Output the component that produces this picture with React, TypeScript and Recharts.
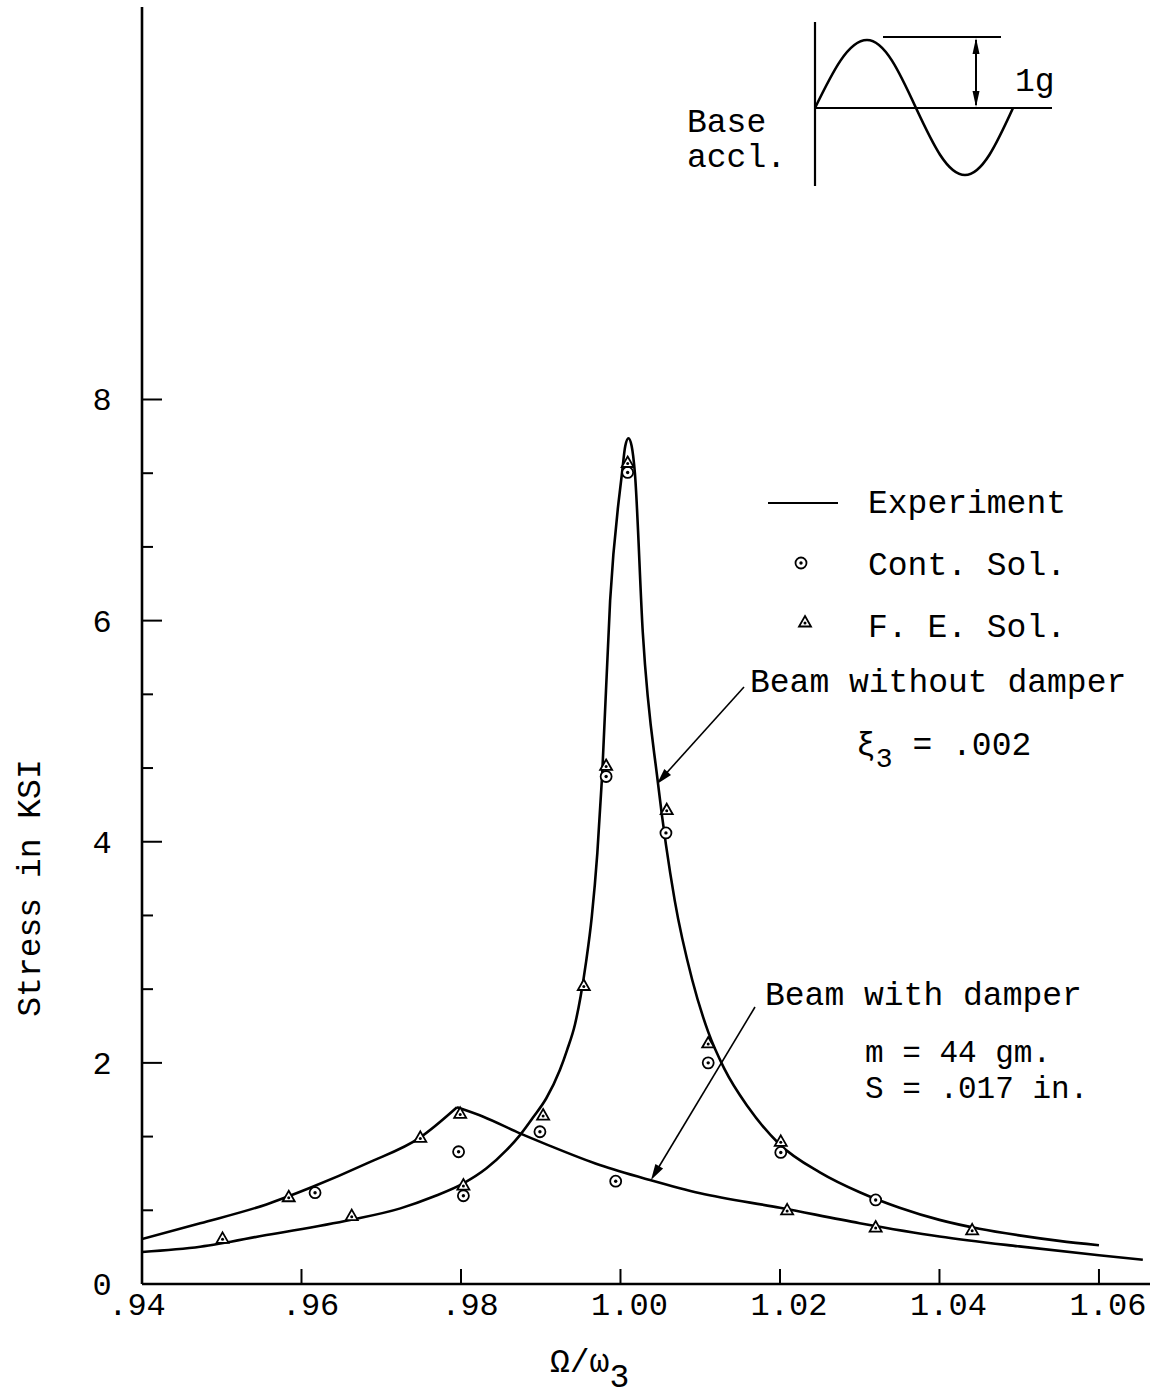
import React from 'react';
import { ComposedChart, Line, Scatter, XAxis, YAxis, Customized } from 'recharts';

const FONT = '"Liberation Mono", "Courier New", monospace';

// ---- axes ----
const xTicks = [0.94, 0.96, 0.98, 1.0, 1.02, 1.04, 1.06];
const xTickLabels = ['.94', '.96', '.98', '1.00', '1.02', '1.04', '1.06'];
const yTicks = [0, 2 / 3, 4 / 3, 2, 8 / 3, 10 / 3, 4, 14 / 3, 16 / 3, 6, 20 / 3, 22 / 3, 8];
const yTickLabels = ['0', '', '', '2', '', '', '4', '', '', '6', '', '', '8'];

// ---- Experiment: beam without damper ----
const noDamperX = [
  0.94, 0.9473, 0.9556, 0.9661, 0.9724, 0.9765, 0.9803, 0.9832, 0.9857, 0.9874, 0.9891, 0.9907,
  0.9924, 0.9933, 0.9943, 0.995, 0.9957, 0.9964, 0.9971, 0.9977, 0.9987, 1.0002, 1.0006, 1.001, 1.0014, 1.0018, 1.0028,
  1.0047, 1.0068, 1.009, 1.011, 1.013, 1.016, 1.02, 1.025, 1.03, 1.035, 1.04, 1.045, 1.05, 1.055, 1.06,
];
const noDamperY = [
  0.29, 0.337, 0.443, 0.579, 0.684, 0.789, 0.91, 1.046, 1.21, 1.347, 1.513, 1.68,
  1.935, 2.116, 2.35, 2.6, 2.92, 3.32, 3.9, 4.6, 6.18, 7.34, 7.58, 7.65, 7.58, 7.34, 5.89,
  4.53, 3.47, 2.75, 2.28, 1.95, 1.6, 1.26, 1.01, 0.83, 0.69, 0.58, 0.5, 0.44, 0.39, 0.35,
];

// ---- Experiment: beam with damper (two branches meeting at the peak) ----
const damperLeftX = [0.94, 0.9473, 0.9556, 0.9611, 0.9682, 0.9749, 0.9795];
const damperLeftY = [0.407, 0.549, 0.72, 0.87, 1.091, 1.326, 1.598];
const damperRightX = [0.9795, 0.9828, 0.9874, 0.9907, 0.9974, 1.0037, 1.01, 1.02, 1.03, 1.04, 1.05, 1.06, 1.0655];
const damperRightY = [1.598, 1.513, 1.362, 1.263, 1.076, 0.94, 0.82, 0.69, 0.55, 0.43, 0.34, 0.26, 0.22];

// ---- Cont. Sol. ----
const contSolX = [0.9617, 0.9797, 0.9803, 0.9899, 0.9982, 0.9994, 1.0009, 1.0057, 1.011, 1.0201, 1.032];
const contSolY = [0.826, 1.196, 0.798, 1.377, 4.59, 0.93, 7.34, 4.08, 2.0, 1.19, 0.76];

// ---- F. E. Sol. ----
const feSolX = [0.9501, 0.9584, 0.9663, 0.9749, 0.9799, 0.9803, 0.9903, 0.9954, 0.9982, 1.0009, 1.0058, 1.011, 1.0201, 1.0209, 1.032, 1.0441];
const feSolY = [0.413, 0.789, 0.618, 1.326, 1.543, 0.895, 1.528, 2.7, 4.69, 7.43, 4.29, 2.18, 1.29, 0.67, 0.515, 0.49];

const zip = (xs: number[], ys: number[]) => xs.map((x, i) => ({ x, y: ys[i] }));

const noDamper = zip(noDamperX, noDamperY);
const damperLeft = zip(damperLeftX, damperLeftY);
const damperRight = zip(damperRightX, damperRightY);
const contSol = zip(contSolX, contSolY);
const feSol = zip(feSolX, feSolY);

const CircleMark = (props: any) => {
  const { cx, cy } = props;
  if (cx == null || cy == null) return null;
  return (
    <g>
      <circle cx={cx} cy={cy} r={5.5} fill="#fff" stroke="#000" strokeWidth={1.8} />
      <circle cx={cx} cy={cy} r={1.7} fill="#000" />
    </g>
  );
};

const TriMark = (props: any) => {
  const { cx, cy } = props;
  if (cx == null || cy == null) return null;
  return (
    <g>
      <path d={`M${cx},${cy - 6} L${cx + 6},${cy + 4.5} L${cx - 6},${cy + 4.5} Z`} fill="#fff" stroke="#000" strokeWidth={1.8} />
      <circle cx={cx} cy={cy + 1} r={1.5} fill="#000" />
    </g>
  );
};

const XTick = (props: any) => {
  const { x, y, index } = props;
  const dx = index === 0 ? -5 : 9;
  return (
    <g>
      {index > 0 && <line x1={x} y1={y} x2={x} y2={y - 15} stroke="#000" strokeWidth={2} />}
      <text x={x + dx} y={y + 31} textAnchor="middle" fontFamily={FONT} fontSize={32} fill="#000">
        {xTickLabels[index]}
      </text>
    </g>
  );
};

const YTick = (props: any) => {
  const { x, y, index } = props;
  const label = yTickLabels[index];
  const len = label ? 20 : 11;
  return (
    <g>
      <line x1={x} y1={y} x2={x + len} y2={y} stroke="#000" strokeWidth={2} />
      {label && (
        <text x={x - 40} y={y + 11} textAnchor="middle" fontFamily={FONT} fontSize={32} fill="#000">
          {label}
        </text>
      )}
    </g>
  );
};

const arrowHead = (x1: number, y1: number, x2: number, y2: number, len = 14, half = 4.5) => {
  const dx = x2 - x1;
  const dy = y2 - y1;
  const d = Math.hypot(dx, dy);
  const ux = dx / d;
  const uy = dy / d;
  const bx = x2 - ux * len;
  const by = y2 - uy * len;
  return `M${x2},${y2} L${bx - uy * half},${by + ux * half} L${bx + uy * half},${by - ux * half} Z`;
};

const quarterWave = (x0: number, y0: number, x1: number, y1: number, rising: boolean) => {
  const w = x1 - x0;
  if (rising) {
    const a = y1 - y0;
    return `C${x0 + 0.3343 * w},${y0 + 0.5251 * a} ${x0 + 0.6401 * w},${y1} ${x1},${y1}`;
  }
  const a = y0 - y1;
  return `C${x0 + 0.3599 * w},${y0} ${x0 + 0.6657 * w},${y1 + 0.5251 * a} ${x1},${y1}`;
};

const Annotations = () => {
  const t = { fontFamily: FONT, fontSize: 33, fill: '#000' } as any;
  const sine =
    `M815,108 ` +
    quarterWave(815, 108, 867, 40, true) +
    ' ' +
    quarterWave(867, 40, 916, 108, false) +
    ' ' +
    quarterWave(916, 108, 965, 175, true) +
    ' ' +
    quarterWave(965, 175, 1013, 108, false);
  return (
    <g>
      {/* inset */}
      <line x1={815} y1={22} x2={815} y2={186} stroke="#000" strokeWidth={2.2} />
      <line x1={815} y1={108} x2={1052} y2={108} stroke="#000" strokeWidth={2.2} />
      <line x1={883} y1={37} x2={1001} y2={37} stroke="#000" strokeWidth={2} />
      <path d={sine} fill="none" stroke="#000" strokeWidth={2.6} />
      <line x1={976} y1={40} x2={976} y2={105} stroke="#000" strokeWidth={2} />
      <path d={arrowHead(976, 70, 976, 38, 16, 3.5)} fill="#000" />
      <path d={arrowHead(976, 75, 976, 107, 16, 3.5)} fill="#000" />
      <text x={1015} y={91} {...t}>1g</text>
      <text x={687} y={132} {...t}>
        Base
        <tspan x={687} y={167}>accl.</tspan>
      </text>

      {/* legend */}
      <line x1={768} y1={503} x2={838} y2={503} stroke="#000" strokeWidth={1.8} />
      <text x={868} y={513} {...t}>Experiment</text>
      <CircleMark cx={801} cy={563} />
      <text x={868} y={575} {...t}>Cont. Sol.</text>
      <TriMark cx={805} cy={622} />
      <text x={868} y={637} {...t}>F. E. Sol.</text>

      {/* beam without damper */}
      <text x={750} y={692} {...t}>Beam without damper</text>
      <text x={856} y={755} {...t}>
        ξ<tspan dy={12} fontSize={28}>3</tspan>
        <tspan dy={-12}> = .002</tspan>
      </text>
      <line x1={744} y1={687} x2={662} y2={778} stroke="#000" strokeWidth={1.6} />
      <path d={arrowHead(744, 687, 657, 784, 16, 4.5)} fill="#000" />

      {/* beam with damper */}
      <text x={765} y={1005} {...t}>Beam with damper</text>
      <text x={865} y={1062} {...t} fontSize={31}>m = 44 gm.</text>
      <text x={865} y={1098} {...t} fontSize={31}>S = .017 in.</text>
      <line x1={755} y1={1007} x2={654} y2={1175} stroke="#000" strokeWidth={1.6} />
      <path d={arrowHead(755, 1007, 651, 1180, 16, 4.5)} fill="#000" />

      {/* axis titles */}
      <text transform="translate(40,888) rotate(-90)" textAnchor="middle" {...t}>
        Stress in KSI
      </text>
      <text x={550} y={1372} {...t}>
        Ω/ω<tspan dy={15}>3</tspan>
      </text>
    </g>
  );
};

export default function App() {
  return (
    <div style={{ position: 'absolute', left: 0, top: 0, background: '#fff' }}>
      <ComposedChart width={1159} height={1397} margin={{ top: 7, right: 9, bottom: 53, left: 82 }}>
        <XAxis
          type="number"
          dataKey="x"
          domain={[0.94, 1.0664]}
          ticks={xTicks}
          interval={0}
          height={60}
          tickSize={0}
          tickMargin={0}
          tick={<XTick />}
          axisLine={{ stroke: '#000', strokeWidth: 2.6 }}
          tickLine={false}
          allowDataOverflow
        />
        <YAxis
          type="number"
          dataKey="y"
          domain={[0, 11.55]}
          ticks={yTicks}
          interval={0}
          width={60}
          tickSize={0}
          tickMargin={0}
          tick={<YTick />}
          axisLine={{ stroke: '#000', strokeWidth: 2.6 }}
          tickLine={false}
          allowDataOverflow
        />
        <Line data={noDamper} dataKey="y" type="monotone" stroke="#000" strokeWidth={2.6} dot={false} isAnimationActive={false} />
        <Line data={damperLeft} dataKey="y" type="monotone" stroke="#000" strokeWidth={2.6} dot={false} isAnimationActive={false} />
        <Line data={damperRight} dataKey="y" type="monotone" stroke="#000" strokeWidth={2.6} dot={false} isAnimationActive={false} />
        <Scatter data={contSol} dataKey="y" shape={CircleMark} isAnimationActive={false} />
        <Scatter data={feSol} dataKey="y" shape={TriMark} isAnimationActive={false} />
        <Customized component={Annotations} />
      </ComposedChart>
    </div>
  );
}
